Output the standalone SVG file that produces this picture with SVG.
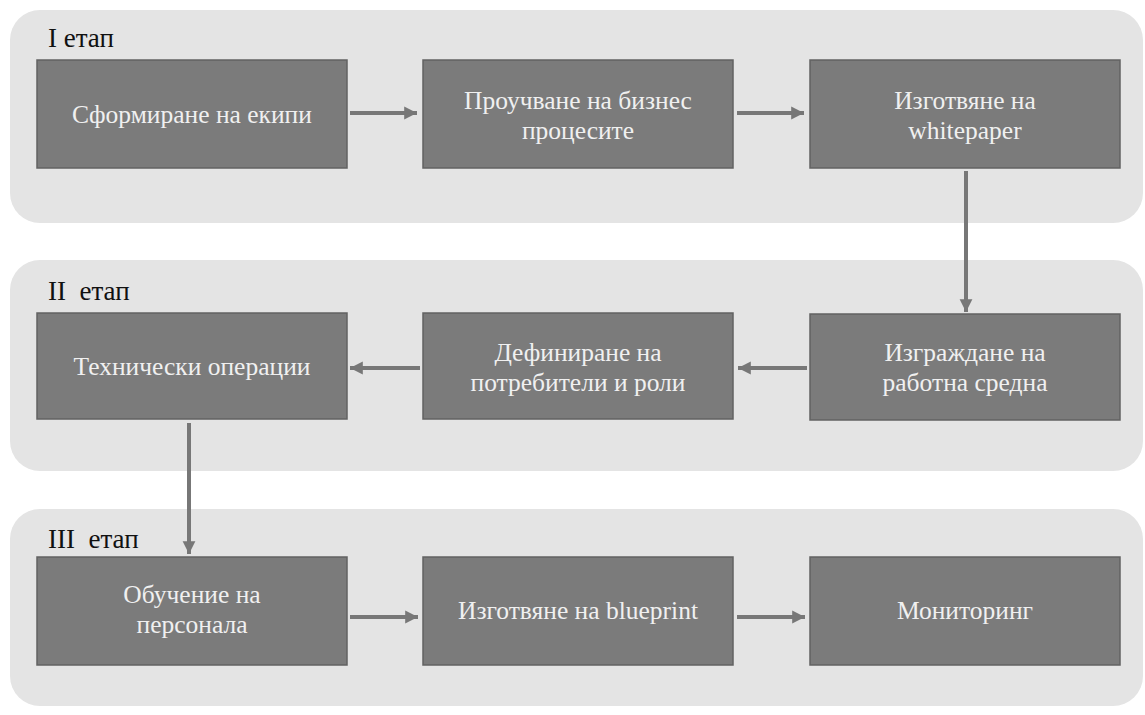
<svg xmlns="http://www.w3.org/2000/svg" width="1145" height="715" viewBox="0 0 1145 715">
<style>
.bg{fill:#ffffff}
.panel{fill:#e4e4e4}
.box{fill:#7b7b7b;stroke:#626262;stroke-width:1.5}
.t{font-size:25.5px;fill:#f0f0f0;text-anchor:middle}
.lbl{font-size:27px;fill:#111111}
.c{stroke:#777777;stroke-width:4;fill:none;marker-end:url(#ah)}
</style>
<defs>
<marker id="ah" markerWidth="4" markerHeight="4" refX="3.2" refY="2" orient="auto" markerUnits="strokeWidth" viewBox="0 0 4 4">
<path d="M0,0.4 L3.2,2 L0,3.6 Z" fill="#777777"/>
</marker>
</defs>
<rect class="bg" x="0" y="0" width="1145" height="715"/>
<g id="panels">
<rect class="panel" x="10" y="10" width="1133" height="213" rx="30"/>
<rect class="panel" x="10" y="260" width="1133" height="211" rx="30"/>
<rect class="panel" x="10" y="509" width="1133" height="197" rx="30"/>
</g>
<g font-family="Liberation Serif, Times New Roman, serif">
<g id="stage1"><text class="lbl" x="48" y="47">I етап</text></g>
<g id="stage2"><text class="lbl" x="48" y="300" xml:space="preserve">II  етап</text></g>
<g id="stage3"><text class="lbl" x="48" y="548" xml:space="preserve">III  етап</text></g>
<g id="n1"><rect class="box" x="37" y="60" width="310" height="108"/><text class="t" x="192" y="123">Сформиране на екипи</text></g>
<g id="n2"><rect class="box" x="423" y="60" width="310" height="108"/><text class="t" x="578" y="109">Проучване на бизнес</text><text class="t" x="578" y="139">процесите</text></g>
<g id="n3"><rect class="box" x="810" y="60" width="310" height="108"/><text class="t" x="965" y="109">Изготвяне на</text><text class="t" x="965" y="139">whitepaper</text></g>
<g id="n4"><rect class="box" x="37" y="313" width="310" height="106"/><text class="t" x="192" y="375">Технически операции</text></g>
<g id="n5"><rect class="box" x="423" y="313" width="310" height="106"/><text class="t" x="578" y="361">Дефиниране на</text><text class="t" x="578" y="391">потребители и роли</text></g>
<g id="n6"><rect class="box" x="810" y="314" width="310" height="106"/><text class="t" x="965" y="361">Изграждане на</text><text class="t" x="965" y="391">работна средна</text></g>
<g id="n7"><rect class="box" x="37" y="557" width="310" height="108"/><text class="t" x="192" y="603">Обучение на</text><text class="t" x="192" y="633">персонала</text></g>
<g id="n8"><rect class="box" x="423" y="557" width="310" height="108"/><text class="t" x="578" y="619">Изготвяне на blueprint</text></g>
<g id="n9"><rect class="box" x="810" y="557" width="310" height="108"/><text class="t" x="965" y="619">Мониторинг</text></g>
</g>
<g id="connectors">
<line class="c" x1="350" y1="113" x2="417" y2="113"/>
<line class="c" x1="737" y1="113" x2="804" y2="113"/>
<line class="c" x1="966" y1="171" x2="966" y2="312"/>
<line class="c" x1="807" y1="368" x2="738" y2="368"/>
<line class="c" x1="420" y1="368" x2="350" y2="368"/>
<line class="c" x1="189" y1="423" x2="189" y2="554"/>
<line class="c" x1="350" y1="617" x2="418" y2="617"/>
<line class="c" x1="737" y1="617" x2="805" y2="617"/>
</g>
</svg>
